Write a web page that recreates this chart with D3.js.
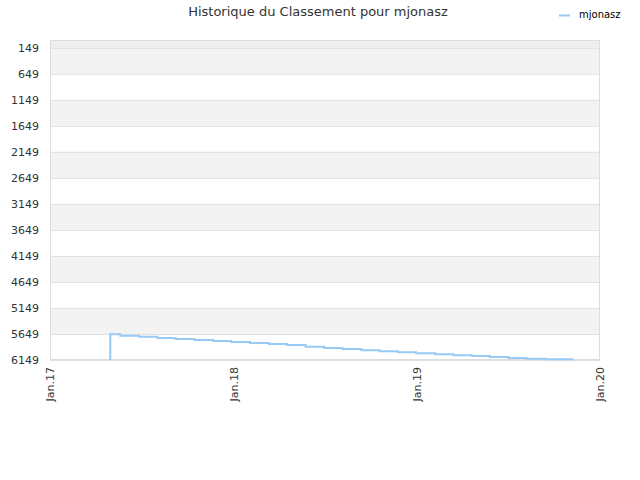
<!DOCTYPE html>
<html>
<head>
<meta charset="utf-8">
<script src="https://cdn.jsdelivr.net/npm/d3@7"></script>
<style>
  body { margin: 0; background: #fff; }
  text { font-family: "DejaVu Sans", sans-serif; }
</style>
</head>
<body>
<svg id="chart" width="640" height="480"></svg>
<script>
var dates = ["2017-05-01", "2017-05-01", "2017-05-21", "2017-06-27", "2017-08-03", "2017-09-08",
  "2017-10-16", "2017-11-22", "2017-12-28", "2018-02-03", "2018-03-13", "2018-04-18",
  "2018-05-25", "2018-07-01", "2018-08-06", "2018-09-13", "2018-10-19", "2018-11-25",
  "2018-12-31", "2019-02-07", "2019-03-15", "2019-04-21", "2019-05-27", "2019-07-03",
  "2019-08-08", "2019-09-15", "2019-10-21", "2019-11-09"];
var ranks = [6149, 5655, 5682, 5701, 5726, 5746, 5765, 5784, 5803, 5822, 5842, 5861,
  5893, 5918, 5938, 5963, 5982, 6001, 6020, 6040, 6059, 6072, 6091, 6111,
  6124, 6136, 6136, 6136];
var yTicks = [149, 649, 1149, 1649, 2149, 2649, 3149, 3649, 4149, 4649, 5149, 5649, 6149];
var xTicks = ["2017-01-01", "2018-01-01", "2019-01-01", "2020-01-01"];
var xTickLabels = ["Jan.17", "Jan.18", "Jan.19", "Jan.20"];
var seriesName = "mjonasz";
var title = "Historique du Classement pour mjonasz";

var parse = d3.timeParse("%Y-%m-%d");
var data = dates.map(function(d, i) { return { date: parse(d), rank: ranks[i] }; });

var svg = d3.select("#chart"),
    plotLeft = 50, plotRight = 600, plotTop = 40, plotBottom = 360;

var x = d3.scaleTime()
    .domain([parse(xTicks[0]), parse(xTicks[xTicks.length - 1])])
    .range([plotLeft, plotRight]);
var y = d3.scaleLinear()
    .domain([0, 6149])
    .range([plotTop, plotBottom]);

// bands between ticks
var bands = [[0, 149]].concat(d3.pairs(yTicks));
svg.append("g").selectAll("rect")
  .data(bands)
  .enter().append("rect")
    .attr("x", plotLeft)
    .attr("width", plotRight - plotLeft)
    .attr("y", function(d) { return y(d[0]); })
    .attr("height", function(d) { return y(d[1]) - y(d[0]); })
    .attr("fill", function(d, i) { return i === 0 ? "#eeeeee" : (i % 2 === 1 ? "#f3f3f3" : "#ffffff"); });

// grid
svg.append("g")
    .attr("transform", "translate(" + plotLeft + ",0)")
    .call(d3.axisLeft(y).tickValues(yTicks).tickSize(-(plotRight - plotLeft)).tickFormat(""))
    .call(function(g) {
      g.select(".domain").remove();
      g.selectAll("line").attr("stroke", "#e0e0e0");
    });

// plot border
svg.append("rect")
    .attr("x", plotLeft + 0.5).attr("y", plotTop + 0.5)
    .attr("width", plotRight - plotLeft - 1).attr("height", plotBottom - plotTop - 1)
    .attr("fill", "none").attr("stroke", "#dddddd");

// y axis labels
svg.append("g")
    .attr("transform", "translate(" + plotLeft + ",0)")
    .call(d3.axisLeft(y).tickValues(yTicks).tickSize(0).tickPadding(11).tickFormat(d3.format("d")))
    .call(function(g) {
      g.select(".domain").remove();
      g.selectAll("text").attr("fill", "#333").style("font-size", "11px");
    });

// x axis labels
svg.append("g")
    .attr("transform", "translate(0," + plotBottom + ")")
    .call(d3.axisBottom(x).tickValues(xTicks.map(parse)).tickSize(0)
      .tickFormat(function(d, i) { return xTickLabels[i]; }))
    .call(function(g) {
      g.select(".domain").remove();
      g.selectAll("text")
        .attr("fill", "#333")
        .style("font-size", "11px")
        .attr("text-anchor", "end")
        .attr("transform", "rotate(-90)")
        .attr("x", -7)
        .attr("y", 0)
        .attr("dy", "0.35em");
    });

// line
var line = d3.line()
    .x(function(d) { return x(d.date); })
    .y(function(d) { return y(d.rank); })
    .curve(d3.curveStepAfter);

svg.append("path")
    .datum(data)
    .attr("fill", "none")
    .attr("stroke", "#99c9f5")
    .attr("stroke-width", 2)
    .attr("d", line);

// title
svg.append("text")
    .attr("x", 318).attr("y", 16)
    .attr("text-anchor", "middle")
    .attr("fill", "#333")
    .style("font-size", "13px")
    .text(title);

// legend
svg.append("line")
    .attr("x1", 559).attr("x2", 570).attr("y1", 15.5).attr("y2", 15.5)
    .attr("stroke", "#99c9f5").attr("stroke-width", 2);
svg.append("text")
    .attr("x", 579).attr("y", 18)
    .attr("fill", "#000")
    .style("font-size", "10px")
    .text(seriesName);
</script>
</body>
</html>
